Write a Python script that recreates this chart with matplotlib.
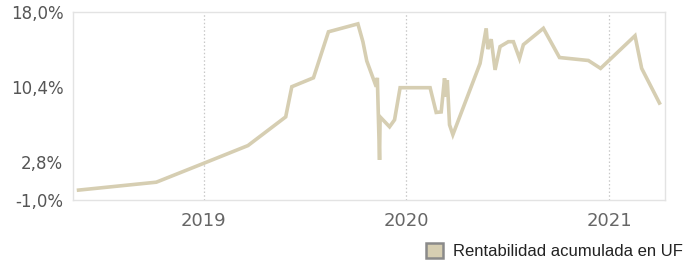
import matplotlib
matplotlib.use("Agg")
import matplotlib.pyplot as plt
from matplotlib.patches import Patch
import numpy as np

dates = [
    "2018-05-21", "2018-10-08", "2019-01-01", "2019-03-22", "2019-05-29",
    "2019-06-09", "2019-07-18", "2019-08-14", "2019-10-06", "2019-10-15",
    "2019-10-22", "2019-11-08", "2019-11-10", "2019-11-14", "2019-11-15",
    "2019-12-02", "2019-12-11", "2019-12-21", "2020-02-13", "2020-02-24",
    "2020-03-04", "2020-03-10", "2020-03-13", "2020-03-15", "2020-03-19",
    "2020-03-25", "2020-05-13", "2020-05-24", "2020-05-27", "2020-06-02",
    "2020-06-09", "2020-06-18", "2020-07-03", "2020-07-12", "2020-07-23",
    "2020-07-30", "2020-09-04", "2020-10-03", "2020-11-24", "2020-12-16",
    "2021-02-16", "2021-02-28", "2021-04-01",
]
values = [
    0.0, 0.8, 2.7, 4.5, 7.4,
    10.45, 11.35, 16.0, 16.8, 15.0,
    13.05, 10.45, 11.35, 3.05, 7.4,
    6.4, 7.1, 10.35, 10.35, 7.85,
    7.9, 11.3, 9.45, 11.1, 6.6,
    5.6, 12.8, 16.35, 14.25, 15.25,
    12.15, 14.5, 15.0, 15.0, 13.3,
    14.7, 16.35, 13.4, 13.1, 12.3,
    15.6, 12.3, 8.8,
]
yticks = [-1.0, 2.8, 10.4, 18.0]
ytick_labels = ["-1,0%", "2,8%", "10,4%", "18,0%"]
xticks = ["2019-01-01", "2020-01-01", "2021-01-01"]
xtick_labels = ["2019", "2020", "2021"]
series_name = "Rentabilidad acumulada en UF"

line_color = "#d6ceb2"

fig = plt.figure(figsize=(6.86, 2.62), dpi=100)
ax = fig.add_axes([73/686, 1-200/262, (665-73)/686, (200-12)/262])

x = np.array(dates, dtype="datetime64[D]")
ax.plot(x, values, color=line_color, lw=2.6, solid_joinstyle="miter", zorder=3)

ax.set_xlim(np.datetime64("2018-05-11"), np.datetime64("2021-04-11"))
ax.set_ylim(-1.0, 18.0)

ax.set_yticks(yticks)
ax.set_yticklabels(ytick_labels)
xt = np.array(xticks, dtype="datetime64[D]")
ax.set_xticks(xt)
ax.set_xticklabels(xtick_labels)

for t in xt:
    ax.axvline(t, color="#c8c8c8", lw=0.9, ls=(0, (1.2, 1.8)), zorder=1)

for s in ax.spines.values():
    s.set_color("#e3e3e3")
    s.set_linewidth(1.0)

ax.tick_params(axis="y", length=0, pad=7, labelsize=12, labelcolor="#555555")
ax.tick_params(axis="x", length=0, pad=9, labelsize=13, labelcolor="#666666")

handle = Patch(facecolor=line_color, edgecolor="#8a8a8a", linewidth=1.8, label=series_name)
fig.legend(handles=[handle], loc="center right", bbox_to_anchor=(683/686, 1-251/262),
           frameon=False, borderpad=0, borderaxespad=0,
           handlelength=1.0, handleheight=1.0, handletextpad=0.6,
           prop={"family": "Liberation Sans", "size": 12}, labelcolor="#222222")

fig.savefig("out.png", dpi=100)
